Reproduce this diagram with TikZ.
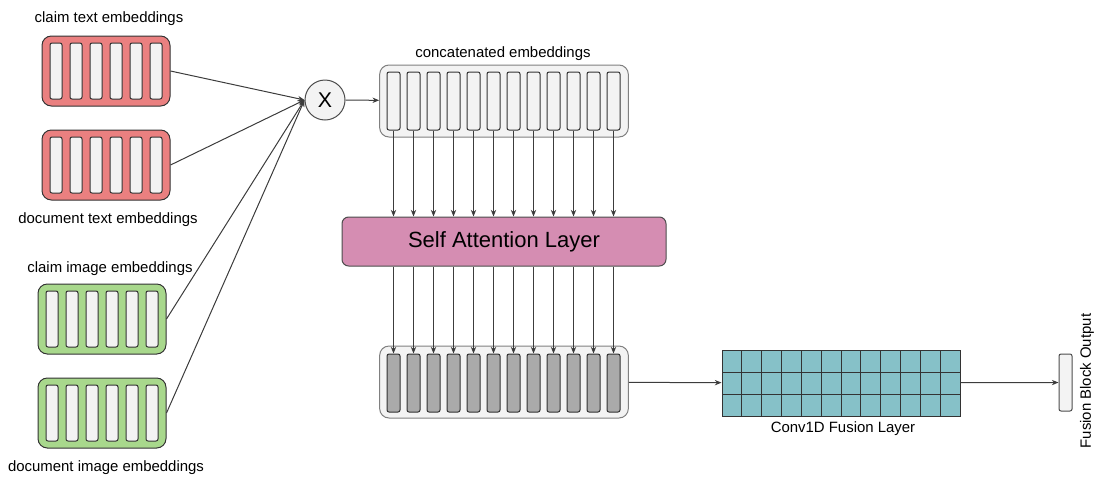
\documentclass[tikz,border=0pt]{standalone}
\usepackage{fontspec}
\setmainfont{Liberation Sans}
\usetikzlibrary{arrows.meta}
\definecolor{embred}{RGB}{234,128,128}
\definecolor{embgreen}{RGB}{168,216,140}
\definecolor{attpink}{RGB}{213,141,178}
\definecolor{convteal}{RGB}{134,193,200}
\definecolor{barlight}{RGB}{243,243,243}
\definecolor{bargray}{RGB}{170,170,170}
\definecolor{linegray}{RGB}{60,60,60}

\begin{document}
\begin{tikzpicture}[
    x=0.75pt, y=-0.75pt,
    font=\fontsize{11.2}{13}\selectfont,
    line width=0.75pt,
    arr/.style={draw=linegray, -{Stealth[length=5pt,width=4pt]}},
    emb/.style={draw=black!80, rounded corners=7pt, minimum width=96pt,
      minimum height=52.5pt, inner sep=0pt},
    cont/.style={draw=black!50, fill=barlight, rounded corners=7pt,
      minimum width=186.5pt, minimum height=54pt, inner sep=0pt},
    bar/.style={draw=black!80, fill=barlight, rounded corners=1.5pt,
      minimum width=9pt, minimum height=42pt, inner sep=0pt},
    wide bar/.style={bar, minimum width=9.75pt, minimum height=43.5pt}
  ]
  \useasboundingbox (0,0) rectangle (1095,479);

  \foreach \n/\c/\x/\y in {ct/embred/106/71, dt/embred/106/165,
      ci/embgreen/102/319, di/embgreen/102/413} {
    \node (\n) [emb, fill=\c] at (\x,\y) {};
    \foreach \i in {0,...,5}
      \node (\n\i) [bar] at (\x-50+20*\i,\y) {};
  }
  \node (ctlab) at (109,19) {claim text embeddings};
  \node (dtlab) at (108,220) {document text embeddings};
  \node (cilab) at (110,269) {claim image embeddings};
  \node (dilab) at (106,468) {document image embeddings};

  \node (mul) [circle, draw=black!70, fill=barlight, minimum size=30pt,
    inner sep=0pt, font=\fontsize{16}{16}\selectfont] at (325,100) {X};
  \foreach \n in {ct,dt,ci,di}
    \draw[arr] (\n.east) -- (mul.west);

  \node (cat) [cont] at (504,101) {};
  \foreach \i in {0,...,11}
    \node (cat\i) [wide bar] at (393.5+20*\i,101) {};
  \node (catlab) at (503,54) {concatenated embeddings};
  \draw[arr] (mul) -- (cat);

  \node (sa) [draw=black!70, fill=attpink, rounded corners=5pt,
    minimum width=243pt, minimum height=36.75pt,
    font=\fontsize{16.5}{18}\selectfont] at (504,241.5) {Self Attention Layer};
  \foreach \i in {0,...,11}
    \draw[arr] (cat\i.south) -- (cat\i.south |- sa.north);

  \node (att) [cont] at (504,382) {};
  \foreach \i in {0,...,11} {
    \node (att\i) [wide bar, fill=bargray] at (393.5+20*\i,383) {};
    \draw[arr] (att\i.north |- sa.south) -- (att\i.north);
  }

  \node (conv) [draw=black!80, fill=convteal, minimum width=178.5pt,
    minimum height=49.5pt, inner sep=0pt] at (841,383) {};
  \foreach \i in {1,...,11}
    \draw[black!80] (722+238/12*\i,350) -- (722+238/12*\i,416);
  \foreach \j in {1,2}
    \draw[black!80] (722,350+22*\j) -- (960,350+22*\j);
  \node (convlab) at (843,429) {Conv1D Fusion Layer};
  \draw[arr] (att) -- (conv);

  \node (fus) [draw=black!70, fill=barlight, rounded corners=1.5pt,
    minimum width=9.75pt, minimum height=42.75pt, inner sep=0pt]
    at (1065.5,382.5) {};
  \draw[arr] (conv) -- (fus);
  \node (fuslab) [rotate=90] at (1087,381) {Fusion Block Output};
\end{tikzpicture}
\end{document}
